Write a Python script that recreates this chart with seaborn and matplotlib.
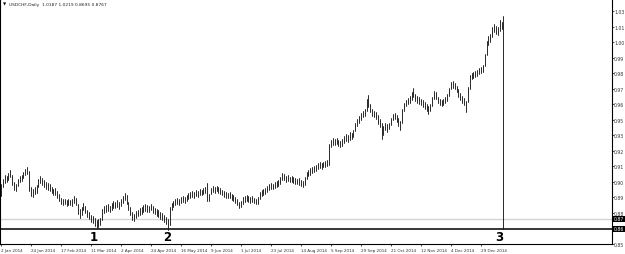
import matplotlib
matplotlib.use("Agg")
import matplotlib.pyplot as plt
import matplotlib.transforms as mtransforms
import numpy as np
import pandas as pd
import seaborn as sns

# ---------------- data ----------------
highs = [
    0.8974, 0.9011, 0.9041, 0.9033, 0.9056, 0.9078, 0.9041, 0.8989, 0.8974, 0.9011,
    0.9033, 0.9041, 0.9063, 0.9085, 0.9100, 0.9070, 0.8952, 0.8937, 0.8952, 0.8967,
    0.9011, 0.9033, 0.9018, 0.9004, 0.8989, 0.8981, 0.8974, 0.8952, 0.8937, 0.8944,
    0.8922, 0.8900, 0.8870, 0.8863, 0.8863, 0.8856, 0.8863, 0.8856, 0.8863, 0.8885,
    0.8870, 0.8826, 0.8789, 0.8804, 0.8833, 0.8811, 0.8781, 0.8767, 0.8744, 0.8737,
    0.8722, 0.8707, 0.8715, 0.8722, 0.8789, 0.8811, 0.8819, 0.8826, 0.8811, 0.8833,
    0.8848, 0.8841, 0.8856, 0.8841, 0.8863, 0.8885, 0.8907, 0.8893, 0.8841, 0.8804,
    0.8767, 0.8752, 0.8774, 0.8781, 0.8796, 0.8804, 0.8819, 0.8826, 0.8819, 0.8811,
    0.8826, 0.8811, 0.8796, 0.8789, 0.8781, 0.8767, 0.8759, 0.8744, 0.8730, 0.8715,
    0.8804, 0.8833, 0.8848, 0.8863, 0.8870, 0.8863, 0.8878, 0.8885, 0.8878, 0.8893,
    0.8907, 0.8915, 0.8922, 0.8915, 0.8930, 0.8922, 0.8937, 0.8930, 0.8944, 0.8952,
    0.8981, 0.8900, 0.8944, 0.8959, 0.8952, 0.8959, 0.8952, 0.8944, 0.8930, 0.8922,
    0.8915, 0.8907, 0.8915, 0.8900, 0.8893, 0.8878, 0.8863, 0.8841, 0.8848, 0.8878,
    0.8885, 0.8893, 0.8885, 0.8878, 0.8885, 0.8870, 0.8863, 0.8878, 0.8915, 0.8930,
    0.8937, 0.8944, 0.8959, 0.8974, 0.8981, 0.8974, 0.8989, 0.8996, 0.9004, 0.9026,
    0.9056, 0.9048, 0.9033, 0.9041, 0.9026, 0.9033, 0.9026, 0.9018, 0.9011, 0.9018,
    0.9004, 0.8996, 0.9026, 0.9063, 0.9078, 0.9092, 0.9100, 0.9107, 0.9115, 0.9129,
    0.9137, 0.9129, 0.9137, 0.9144, 0.9152, 0.9270, 0.9300, 0.9315, 0.9307, 0.9315,
    0.9300, 0.9293, 0.9307, 0.9330, 0.9344, 0.9337, 0.9359, 0.9352, 0.9374, 0.9426,
    0.9455, 0.9478, 0.9500, 0.9515, 0.9529, 0.9603, 0.9633, 0.9566, 0.9529, 0.9515,
    0.9507, 0.9485, 0.9455, 0.9426, 0.9404, 0.9426, 0.9418, 0.9426, 0.9463, 0.9492,
    0.9500, 0.9485, 0.9463, 0.9441, 0.9529, 0.9574, 0.9596, 0.9611, 0.9626, 0.9655,
    0.9685, 0.9640, 0.9626, 0.9618, 0.9603, 0.9596, 0.9581, 0.9566, 0.9552, 0.9566,
    0.9618, 0.9663, 0.9655, 0.9618, 0.9603, 0.9596, 0.9603, 0.9618, 0.9640, 0.9685,
    0.9729, 0.9737, 0.9722, 0.9700, 0.9678, 0.9648, 0.9626, 0.9611, 0.9589, 0.9692,
    0.9781, 0.9796, 0.9803, 0.9811, 0.9818, 0.9833, 0.9840, 0.9855, 0.9937, 1.0033,
    1.0070, 1.0085, 1.0137, 1.0159, 1.0144, 1.0137, 1.0188, 1.0174, 1.0219,
]
lows = [
    0.8885, 0.8952, 0.8981, 0.8989, 0.9004, 0.9026, 0.8967, 0.8930, 0.8922, 0.8959,
    0.8989, 0.8996, 0.9018, 0.9041, 0.9048, 0.8922, 0.8885, 0.8878, 0.8900, 0.8907,
    0.8952, 0.8981, 0.8967, 0.8952, 0.8937, 0.8930, 0.8922, 0.8907, 0.8893, 0.8893,
    0.8870, 0.8848, 0.8826, 0.8819, 0.8826, 0.8811, 0.8819, 0.8819, 0.8811, 0.8833,
    0.8819, 0.8752, 0.8722, 0.8744, 0.8781, 0.8759, 0.8730, 0.8715, 0.8693, 0.8685,
    0.8663, 0.8648, 0.8656, 0.8670, 0.8707, 0.8759, 0.8767, 0.8774, 0.8767, 0.8781,
    0.8796, 0.8796, 0.8804, 0.8789, 0.8811, 0.8833, 0.8856, 0.8826, 0.8781, 0.8744,
    0.8707, 0.8700, 0.8722, 0.8737, 0.8744, 0.8752, 0.8767, 0.8774, 0.8767, 0.8767,
    0.8781, 0.8759, 0.8752, 0.8737, 0.8730, 0.8715, 0.8707, 0.8693, 0.8678, 0.8633,
    0.8670, 0.8781, 0.8804, 0.8819, 0.8826, 0.8819, 0.8833, 0.8841, 0.8833, 0.8848,
    0.8863, 0.8870, 0.8878, 0.8870, 0.8885, 0.8878, 0.8893, 0.8893, 0.8900, 0.8907,
    0.8848, 0.8848, 0.8900, 0.8915, 0.8907, 0.8922, 0.8907, 0.8900, 0.8893, 0.8878,
    0.8870, 0.8870, 0.8870, 0.8856, 0.8848, 0.8833, 0.8819, 0.8796, 0.8804, 0.8826,
    0.8841, 0.8848, 0.8841, 0.8833, 0.8841, 0.8833, 0.8826, 0.8826, 0.8863, 0.8885,
    0.8893, 0.8900, 0.8915, 0.8930, 0.8937, 0.8937, 0.8944, 0.8952, 0.8959, 0.8974,
    0.9004, 0.9004, 0.8989, 0.8996, 0.8989, 0.8989, 0.8981, 0.8974, 0.8974, 0.8967,
    0.8959, 0.8952, 0.8967, 0.9011, 0.9033, 0.9041, 0.9056, 0.9063, 0.9070, 0.9085,
    0.9092, 0.9085, 0.9100, 0.9100, 0.9107, 0.9115, 0.9248, 0.9263, 0.9263, 0.9270,
    0.9256, 0.9248, 0.9256, 0.9278, 0.9293, 0.9285, 0.9300, 0.9307, 0.9322, 0.9367,
    0.9404, 0.9426, 0.9448, 0.9470, 0.9478, 0.9515, 0.9544, 0.9507, 0.9478, 0.9470,
    0.9455, 0.9418, 0.9396, 0.9307, 0.9337, 0.9374, 0.9359, 0.9381, 0.9411, 0.9448,
    0.9455, 0.9433, 0.9404, 0.9374, 0.9426, 0.9515, 0.9552, 0.9566, 0.9574, 0.9596,
    0.9618, 0.9589, 0.9574, 0.9566, 0.9559, 0.9544, 0.9529, 0.9515, 0.9492, 0.9515,
    0.9552, 0.9603, 0.9603, 0.9574, 0.9559, 0.9552, 0.9559, 0.9574, 0.9589, 0.9626,
    0.9678, 0.9685, 0.9678, 0.9655, 0.9618, 0.9596, 0.9574, 0.9559, 0.9507, 0.9581,
    0.9678, 0.9752, 0.9759, 0.9766, 0.9774, 0.9789, 0.9796, 0.9803, 0.9848, 0.9929,
    1.0003, 1.0025, 1.0063, 1.0100, 1.0085, 1.0077, 1.0107, 1.0122, 0.8641,
]

date_labels = ['2 Jan 2014', '24 Jan 2014', '17 Feb 2014', '11 Mar 2014', '2 Apr 2014',
               '24 Apr 2014', '16 May 2014', '9 Jun 2014', '1 Jul 2014', '23 Jul 2014',
               '14 Aug 2014', '5 Sep 2014', '29 Sep 2014', '21 Oct 2014', '12 Nov 2014',
               '4 Dec 2014', '29 Dec 2014']
date_label_bars = list(range(0, 257, 16))

price_ticks = [1.0255, 1.0140, 1.0025, 0.9910, 0.9795, 0.9680, 0.9565, 0.9450,
               0.9335, 0.9220, 0.9105, 0.8990, 0.8875, 0.8760, 0.8645, 0.8530]
price_tick_labels = ['1.03', '1.01', '1.00', '0.99', '0.98', '0.97', '0.96', '0.95',
                     '0.93', '0.92', '0.91', '0.90', '0.89', '0.88', '0.86', '0.85']

bid_price = 0.8715
bid_label = '0.87'
hline_price = 0.8641
hline_label = '0.86'

marker_texts = ['1', '2', '3']
marker_bars = [49.6, 88.6, 265.5]
marker_price = 0.8582

title_text = 'USDCHF,Daily  1.0187 1.0219 0.8695 0.8767'

# ---------------- figure ----------------
sns.set_style('white')
plt.rcParams['font.family'] = ['DejaVu Sans']

fig = plt.figure(figsize=(6.25, 2.55), dpi=100)
fig.patch.set_facecolor('white')
ax = fig.add_axes([0.0, 10 / 255, 612 / 625, 245 / 255])
ax.set_facecolor('white')

n = len(highs)
bars = np.arange(n)
df = pd.DataFrame({
    'bar': np.concatenate([bars, bars]),
    'price': np.concatenate([highs, lows]),
})

ax.axhline(bid_price, color='#d4d4d4', lw=1.0, zorder=1)
ax.axhline(hline_price, color='black', lw=1.1, zorder=1)

sns.lineplot(data=df, x='bar', y='price', units='bar', estimator=None,
             color='#1a1a1a', lw=0.65, sort=False, legend=False, ax=ax, zorder=3)

ax.set_xlim(-1 / 1.875, 611 / 1.875)
ax.set_ylim(0.85297, 1.03439)
ax.set_xlabel('')
ax.set_ylabel('')

for side in ['left', 'bottom', 'right']:
    ax.spines[side].set_visible(True)
    ax.spines[side].set_color('black')
    ax.spines[side].set_linewidth(0.8)
ax.spines['top'].set_visible(False)

ax.yaxis.tick_right()
ax.set_yticks(price_ticks)
ax.set_yticklabels(price_tick_labels)
ax.tick_params(axis='y', which='both', right=True, left=False, length=1.2, width=0.5,
               pad=0.4, labelsize=3.3, colors='black')
for lab in ax.get_yticklabels():
    lab.set_color('#333333')

ax.set_xticks(date_label_bars)
ax.set_xticklabels(date_labels, ha='left')
ax.tick_params(axis='x', which='both', bottom=True, length=1.5, width=0.5,
               pad=1.2, labelsize=3.0, colors='black')
for lab in ax.get_xticklabels():
    lab.set_color('#333333')

trans = mtransforms.blended_transform_factory(ax.transAxes, ax.transData)
for p, lab in [(bid_price, bid_label), (hline_price, hline_label)]:
    ax.text(1.0035, p, lab, transform=trans, ha='left', va='center', fontsize=3.3,
            color='white', zorder=10, clip_on=False,
            bbox=dict(boxstyle='square,pad=0.2', fc='black', ec='black', lw=0))

for t, b in zip(marker_texts, marker_bars):
    ax.text(b, marker_price, t, ha='center', va='center', fontsize=8.5,
            fontweight='bold', color='black', zorder=5)

ax.text(3 / 612, 1 - 5 / 245, '\u25BC', transform=ax.transAxes, ha='left', va='center',
        fontsize=3.0, color='black')
ax.text(9 / 612, 1 - 5 / 245, title_text, transform=ax.transAxes, ha='left',
        va='center', fontsize=3.2, color='#222222')

fig.savefig('out.png', dpi=100, facecolor='white')
